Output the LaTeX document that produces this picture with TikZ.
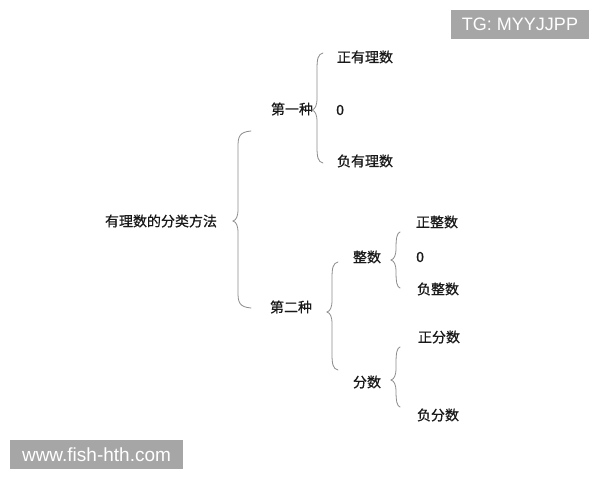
\documentclass[tikz,border=0pt]{standalone}
\usepackage{fontspec}
\setmainfont{Liberation Sans}
\newfontfamily\cjk[FakeBold=0.6]{Noto Sans CJK SC}
\definecolor{wmgray}{HTML}{A6A6A6}
\definecolor{bracegray}{HTML}{8C8C8C}
\newcommand\curlybrace[5]{% x, ytop, ymid, ybot, curl
  \draw[bracefig] (#1+#5,#2) .. controls (#1+1,#2+1) and (#1,#2+6) .. (#1,#2+16)
    -- (#1,#3-12) .. controls (#1,#3-4) and (#1-2,#3-1) .. (#1-5,#3)
    .. controls (#1-2,#3+1) and (#1,#3+4) .. (#1,#3+12)
    -- (#1,#4-16) .. controls (#1,#4-6) and (#1+1,#4-1) .. (#1+#5,#4);}
\begin{document}
\begin{tikzpicture}[x=1pt,y=-1pt,
  lbl/.style={font=\cjk\fontsize{14}{14}\selectfont, inner sep=0pt, text=black!90},
  wm/.style={fill=wmgray, text=white, inner sep=0pt},
  bracefig/.style={draw=bracegray, line width=0.8pt, line cap=round}]
\useasboundingbox[fill=white] (0,0) rectangle (600,480);
% labels
\node[lbl] (main) at (161,221) {有理数的分类方法};
\node[lbl] (d1) at (292,109) {第一种};
\node[lbl] (a1) at (365,57) {正有理数};
\node[lbl, anchor=west] (a2) at (336,110) {0};
\node[lbl] (a3) at (365,161) {负有理数};
\node[lbl] (d2) at (291,307) {第二种};
\node[lbl] (e1) at (367,257) {整数};
\node[lbl] (e2) at (367,382) {分数};
\node[lbl] (f1) at (437,222) {正整数};
\node[lbl, anchor=west] (f2) at (416,257) {0};
\node[lbl] (f3) at (438,289) {负整数};
\node[lbl] (g1) at (439,337) {正分数};
\node[lbl] (g2) at (438,415) {负分数};
% braces
\curlybrace{238}{131}{221}{308}{13}
\curlybrace{317}{53}{110}{163}{6}
\curlybrace{332}{262}{312}{370}{6}
\curlybrace{396}{232}{260}{288}{4}
\curlybrace{396}{347}{380}{407}{4}
% watermarks
\node[wm, minimum width=138, minimum height=29, font=\fontsize{18}{18}\selectfont] (tg) at (520,24.5) {TG: MYYJJPP};
\node[wm, minimum width=173, minimum height=29, font=\fontsize{19}{19}\selectfont] (www) at (96.5,454.5) {www.fish-hth.com};
\end{tikzpicture}
\end{document}
